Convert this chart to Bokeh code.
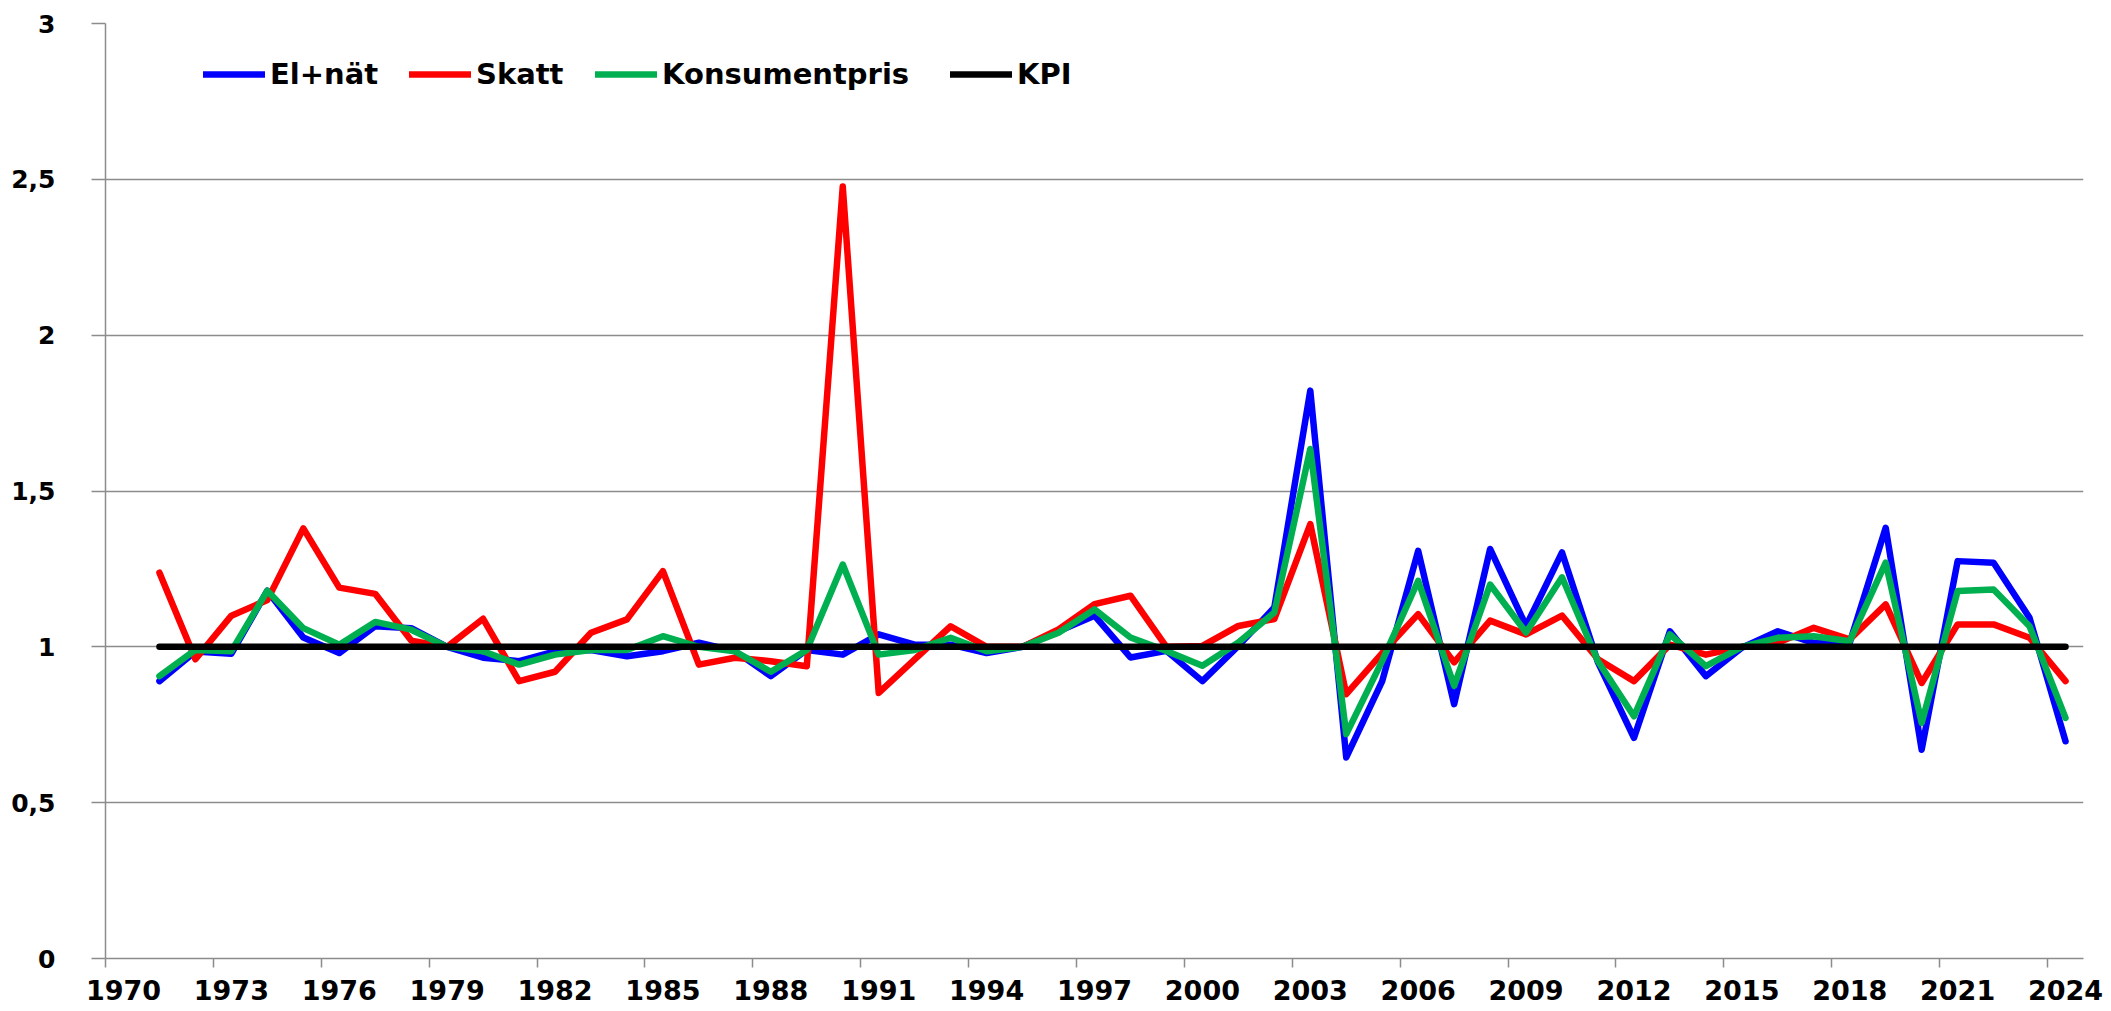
from bokeh.plotting import figure
from bokeh.models import (Range1d, FixedTicker, CustomJSTickFormatter, Legend, LegendItem)
from bokeh.embed import file_html
from bokeh.resources import INLINE

years = list(range(1971, 2025))

el_nat = [0.89, 0.985, 0.978, 1.18, 1.03, 0.98, 1.066, 1.06, 1.00, 0.965,
          0.954, 0.985, 0.99, 0.97, 0.986, 1.013, 0.986, 0.906, 0.99, 0.975,
          1.04, 1.007, 1.007, 0.98, 1.0, 1.05, 1.10, 0.966, 0.987, 0.89,
          1.003, 1.126, 1.822, 0.645, 0.89, 1.308, 0.816, 1.314, 1.067, 1.303,
          0.95, 0.708, 1.05, 0.906, 0.997, 1.05, 1.013, 1.013, 1.382, 0.67,
          1.275, 1.27, 1.093, 0.697]

skatt = [1.238, 0.96, 1.10, 1.15, 1.38, 1.19, 1.17, 1.02, 1.00, 1.09,
         0.89, 0.92, 1.045, 1.088, 1.243, 0.943, 0.965, 0.954, 0.938, 2.477,
         0.852, 0.96, 1.066, 1.0, 1.0, 1.056, 1.137, 1.164, 1.0, 1.003,
         1.067, 1.089, 1.394, 0.848, 0.98, 1.105, 0.95, 1.084, 1.04, 1.10,
         0.96, 0.89, 1.007, 0.975, 1.0, 1.013, 1.061, 1.024, 1.136, 0.884,
         1.072, 1.072, 1.029, 0.89]

konsumentpris = [0.906, 0.99, 0.986, 1.18, 1.06, 1.007, 1.08, 1.055, 1.0, 0.986,
                 0.943, 0.975, 0.99, 0.99, 1.034, 1.0, 0.986, 0.92, 0.99, 1.264,
                 0.975, 0.99, 1.029, 0.986, 1.0, 1.045, 1.12, 1.03, 0.987, 0.939,
                 1.014, 1.11, 1.635, 0.72, 0.955, 1.212, 0.875, 1.20, 1.046, 1.223,
                 0.954, 0.777, 1.04, 0.938, 1.0, 1.029, 1.034, 1.018, 1.27, 0.756,
                 1.179, 1.184, 1.066, 0.772]

kpi = [1, 1, 1, 1, 1, 1, 1, 1, 1, 1,
       1, 1, 1, 1, 1, 1, 1, 1, 1, 1,
       1, 1, 1, 1, 1, 1, 1, 1, 1, 1,
       1, 1, 1, 1, 1, 1, 1, 1, 1, 1,
       1, 1, 1, 1, 1, 1, 1, 1, 1, 1,
       1, 1, 1, 1]

tick_years = [1970, 1973, 1976, 1979, 1982, 1985, 1988, 1991, 1994, 1997,
              2000, 2003, 2006, 2009, 2012, 2015, 2018, 2021, 2024]
y_ticks = [0, 0.5, 1, 1.5, 2, 2.5, 3]

series_names = ["El+nät", "Skatt", "Konsumentpris", "KPI"]
series_colors = ["#0000FF", "#FF0000", "#00B050", "#000000"]

FONT = "DejaVu Sans"
GRAY = "#8c8c8c"

p = figure(width=2103, height=1005, output_backend="svg", toolbar_location=None,
           x_range=Range1d(1969.5, 2024.5), y_range=Range1d(0, 3),
           min_border_left=105, min_border_right=20, min_border_top=23,
           min_border_bottom=47)
p.outline_line_color = None
p.background_fill_color = "white"
p.border_fill_color = "white"

renderers = []
for vals, col in zip([el_nat, skatt, konsumentpris, kpi], series_colors):
    r = p.line(years, vals, line_color=col, line_width=6.5,
               line_cap="round", line_join="round")
    renderers.append(r)

# x axis
xa = p.xaxis[0]
xa.ticker = FixedTicker(ticks=tick_years, minor_ticks=[t - 0.5 for t in tick_years])
xa.major_tick_line_color = None
xa.major_tick_out = 0
xa.major_tick_in = 0
xa.minor_tick_line_color = GRAY
xa.minor_tick_line_width = 1.5
xa.minor_tick_out = 9
xa.minor_tick_in = 0
xa.axis_line_color = GRAY
xa.axis_line_width = 1.5
xa.major_label_text_font = FONT
xa.major_label_text_font_style = "bold"
xa.major_label_text_font_size = "27px"
xa.major_label_text_color = "black"
xa.major_label_standoff = 12

# y axis
ya = p.yaxis[0]
ya.ticker = FixedTicker(ticks=y_ticks)
ya.formatter = CustomJSTickFormatter(code="return tick.toString().replace('.', ',');")
ya.major_tick_out = 14
ya.major_tick_in = 0
ya.major_tick_line_color = GRAY
ya.major_tick_line_width = 1.5
ya.minor_tick_line_color = None
ya.axis_line_color = GRAY
ya.axis_line_width = 1.5
ya.major_label_text_font = FONT
ya.major_label_text_font_style = "bold"
ya.major_label_text_font_size = "25px"
ya.major_label_text_color = "black"
ya.major_label_standoff = 36

p.xgrid.grid_line_color = None
p.ygrid.ticker = FixedTicker(ticks=y_ticks)
p.ygrid.grid_line_color = GRAY
p.ygrid.grid_line_width = 1.5

# legends, one per item, placed individually
legend_x = [98, 304, 490, 845]
for name, r, lx in zip(series_names, renderers, legend_x):
    lg = Legend(items=[LegendItem(label=name, renderers=[r])],
                location=(lx, 867), orientation="horizontal",
                padding=0, margin=0, spacing=0,
                glyph_width=62, glyph_height=20, label_standoff=5,
                label_text_font=FONT, label_text_font_style="bold",
                label_text_font_size="29px", label_text_color="black",
                background_fill_alpha=0, border_line_color=None)
    p.add_layout(lg, "center")

open("out.html", "w").write(file_html(p, INLINE))
